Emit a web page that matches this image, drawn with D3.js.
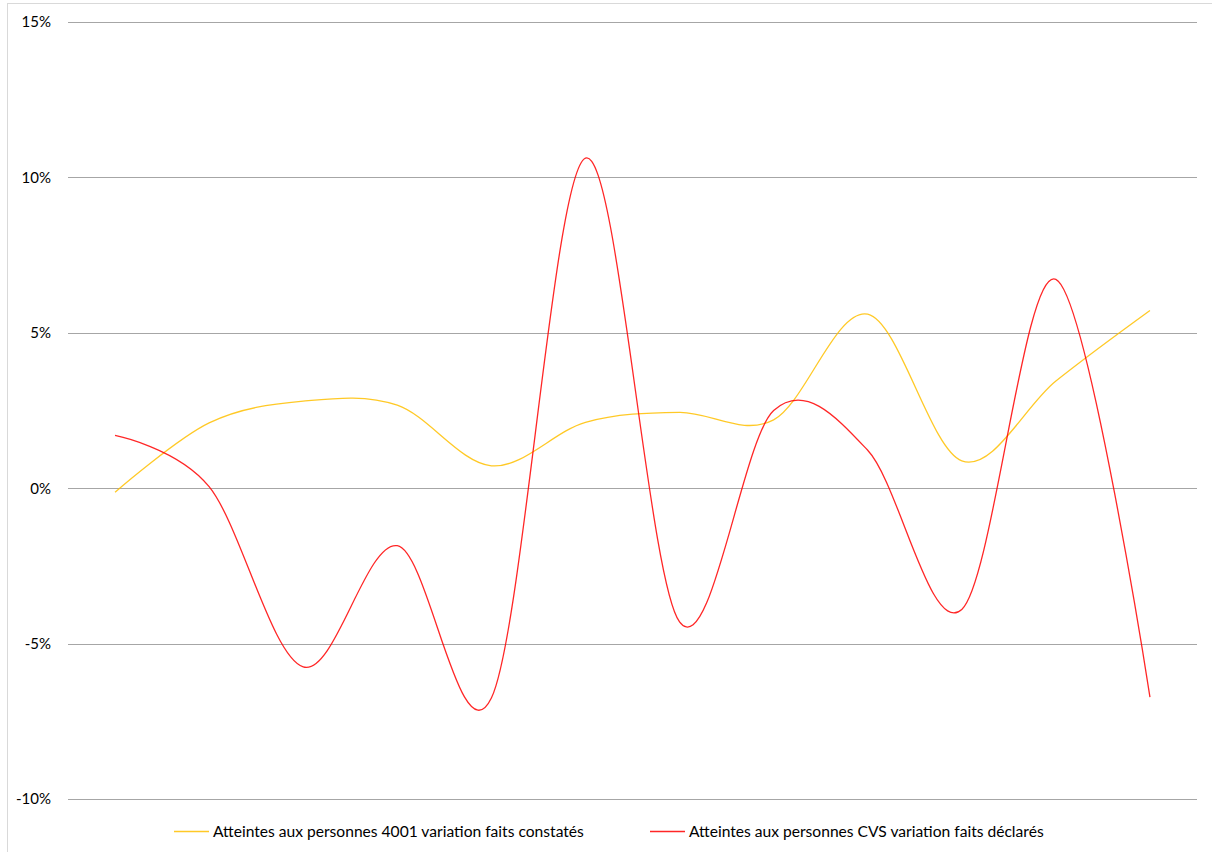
<!DOCTYPE html>
<html>
<head>
<meta charset="utf-8">
<script src="https://cdn.jsdelivr.net/npm/d3@7"></script>
<style>
  html, body { margin: 0; padding: 0; background: #fff; }
  svg { display: block; }
  text { font-family: Lato, "Open Sans", sans-serif; fill: #000; }
</style>
</head>
<body>
<svg id="chart" width="1212" height="852"></svg>
<script>
// Periods (12 observations)
const periods = ["P1", "P2", "P3", "P4", "P5", "P6", "P7", "P8", "P9", "P10", "P11", "P12"];

// Monthly variation, in percent
const faitsConstates = [-0.13, 2.1, 2.8, 2.67, 0.72, 2.12, 2.44, 2.2, 5.6, 0.88, 3.45, 5.72];
const faitsDeclares = [1.7, 0.05, -5.75, -1.85, -6.75, 10.62, -4.3, 2.5, 1.22, -3.9, 6.72, -6.72];

// Y axis ticks
const yTicks = [-10, -5, 0, 5, 10, 15];

const seriesNames = [
  "Atteintes aux personnes 4001 variation faits constatés",
  "Atteintes aux personnes CVS variation faits déclarés"
];
const seriesColors = ["#FFC000", "#FF0000"];

const svg = d3.select("#chart");

// Outer chart frame
svg.append("rect")
  .attr("x", 7.5).attr("y", 3.5)
  .attr("width", 1230).attr("height", 870)
  .attr("fill", "none").attr("stroke", "#d9d9d9").attr("stroke-width", 1);

const x = d3.scaleBand().domain(periods).range([68, 1197]);
const y = d3.scaleLinear().domain([-10, 15]).range([799, 22]);

// Horizontal gridlines
svg.append("g").selectAll("line")
  .data(yTicks).join("line")
  .attr("x1", 68).attr("x2", 1197)
  .attr("y1", d => Math.round(y(d)) + 0.5)
  .attr("y2", d => Math.round(y(d)) + 0.5)
  .attr("stroke", "#a6a6a6").attr("stroke-width", 1);

// Y axis labels
svg.append("g").selectAll("text")
  .data(yTicks).join("text")
  .attr("x", 51)
  .attr("y", d => y(d))
  .attr("dy", "0.36em")
  .attr("text-anchor", "end")
  .style("font-size", "15px")
  .text(d => d + "%");

const cx = d => x(d) + x.bandwidth() / 2;

const line = d3.line()
  .x((d, i) => cx(periods[i]))
  .y(d => y(d))
  .curve(d3.curveCardinal.tension(0));

[faitsConstates, faitsDeclares].forEach((vals, i) => {
  svg.append("path")
    .datum(vals)
    .attr("d", line)
    .attr("fill", "none")
    .attr("stroke", seriesColors[i])
    .attr("stroke-width", 1.3)
    .attr("stroke-opacity", 0.85);
});

// Legend
const legendX = [174, 650];
const legend = svg.append("g");
seriesNames.forEach((name, i) => {
  legend.append("line")
    .attr("x1", legendX[i]).attr("x2", legendX[i] + 35)
    .attr("y1", 831.5).attr("y2", 831.5)
    .attr("stroke", seriesColors[i]).attr("stroke-width", 1.3)
    .attr("stroke-opacity", 0.85);
  legend.append("text")
    .attr("x", legendX[i] + 39)
    .attr("y", 831)
    .attr("dy", "0.36em")
    .style("font-size", "15.6px")
    .text(name);
});
</script>
</body>
</html>
